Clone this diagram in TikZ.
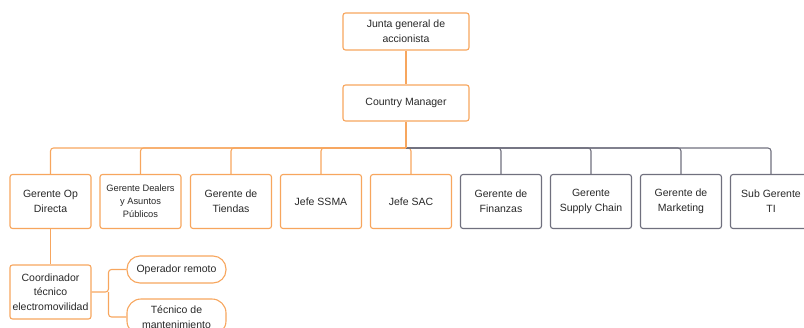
\documentclass[tikz,border=0pt]{standalone}
\usepackage{fontspec}
\setmainfont{Liberation Sans}
\definecolor{org}{RGB}{247,166,94}
\definecolor{gry}{RGB}{112,112,126}
\definecolor{txt}{RGB}{40,40,40}
\begin{document}
\begin{tikzpicture}[x=1pt,y=-1pt,
  base/.style={rounded corners=2.5pt, line width=1.1pt, align=center, text=txt, fill=white,
    font=\fontsize{10.5}{15}\selectfont, inner sep=0pt},
  obox/.style={base, draw=org, minimum width=81pt, minimum height=54pt},
  gbox/.style={base, draw=gry, minimum width=81pt, minimum height=54pt},
  tbox/.style={base, draw=org, minimum width=126pt, minimum height=37pt},
  pill/.style={base, draw=org, minimum width=99pt, rounded corners=13pt},
  oline/.style={draw=org, line width=1.1pt, rounded corners=3pt},
  gline/.style={draw=gry, line width=1.1pt, rounded corners=3pt}
]
\useasboundingbox (0,0) rectangle (804,327);

\node[tbox] (junta) at (406,31.5) {Junta general de\\accionista};
\node[tbox, minimum height=36pt] (cm) at (406,103) {Country Manager};

\node[obox] (op) at (50.5,201.5) {Gerente Op\\Directa};
\node[obox, font=\fontsize{9.3}{13}\selectfont] (dea) at (140.5,201.5) {Gerente Dealers\\y Asuntos\\Públicos};
\node[obox] (tie) at (231,201.5) {Gerente de\\Tiendas};
\node[obox] (ssma) at (321,201.5) {Jefe SSMA};
\node[obox] (sac) at (411,201.5) {Jefe SAC};
\node[gbox] (fin) at (501,201.5) {Gerente de\\Finanzas};
\node[gbox] (sup) at (591,201.5) {Gerente\\Supply Chain};
\node[gbox] (mkt) at (681,201.5) {Gerente de\\Marketing};
\node[gbox] (ti) at (771,201.5) {Sub Gerente\\TI};

\node[obox, font=\fontsize{10.5}{14.5}\selectfont] (coord) at (50.5,292) {Coordinador\\técnico\\electromovilidad};
\node[pill, minimum height=27pt] (opr) at (176.5,269.5) {Operador remoto};
\node[pill, minimum height=36pt, rounded corners=14pt] (tec) at (176.5,317) {Técnico de\\mantenimiento};

\coordinate (bus) at (406,148);

\draw[oline] (junta.south) -- (cm.north);
\foreach \n in {op,dea,tie,ssma,sac} \draw[oline] (bus) -| (\n.north);
\foreach \n in {fin,sup,mkt,ti} \draw[gline] (bus) -| (\n.north);
\draw[oline] (cm.south) -- (bus);

\draw[oline] (op.south) -- (coord.north);
\coordinate (fork) at (108.5,292);
\draw[oline] (coord.east) -- (fork) |- (opr.west);
\draw[oline] (fork) |- (tec.west);
\end{tikzpicture}
\end{document}
